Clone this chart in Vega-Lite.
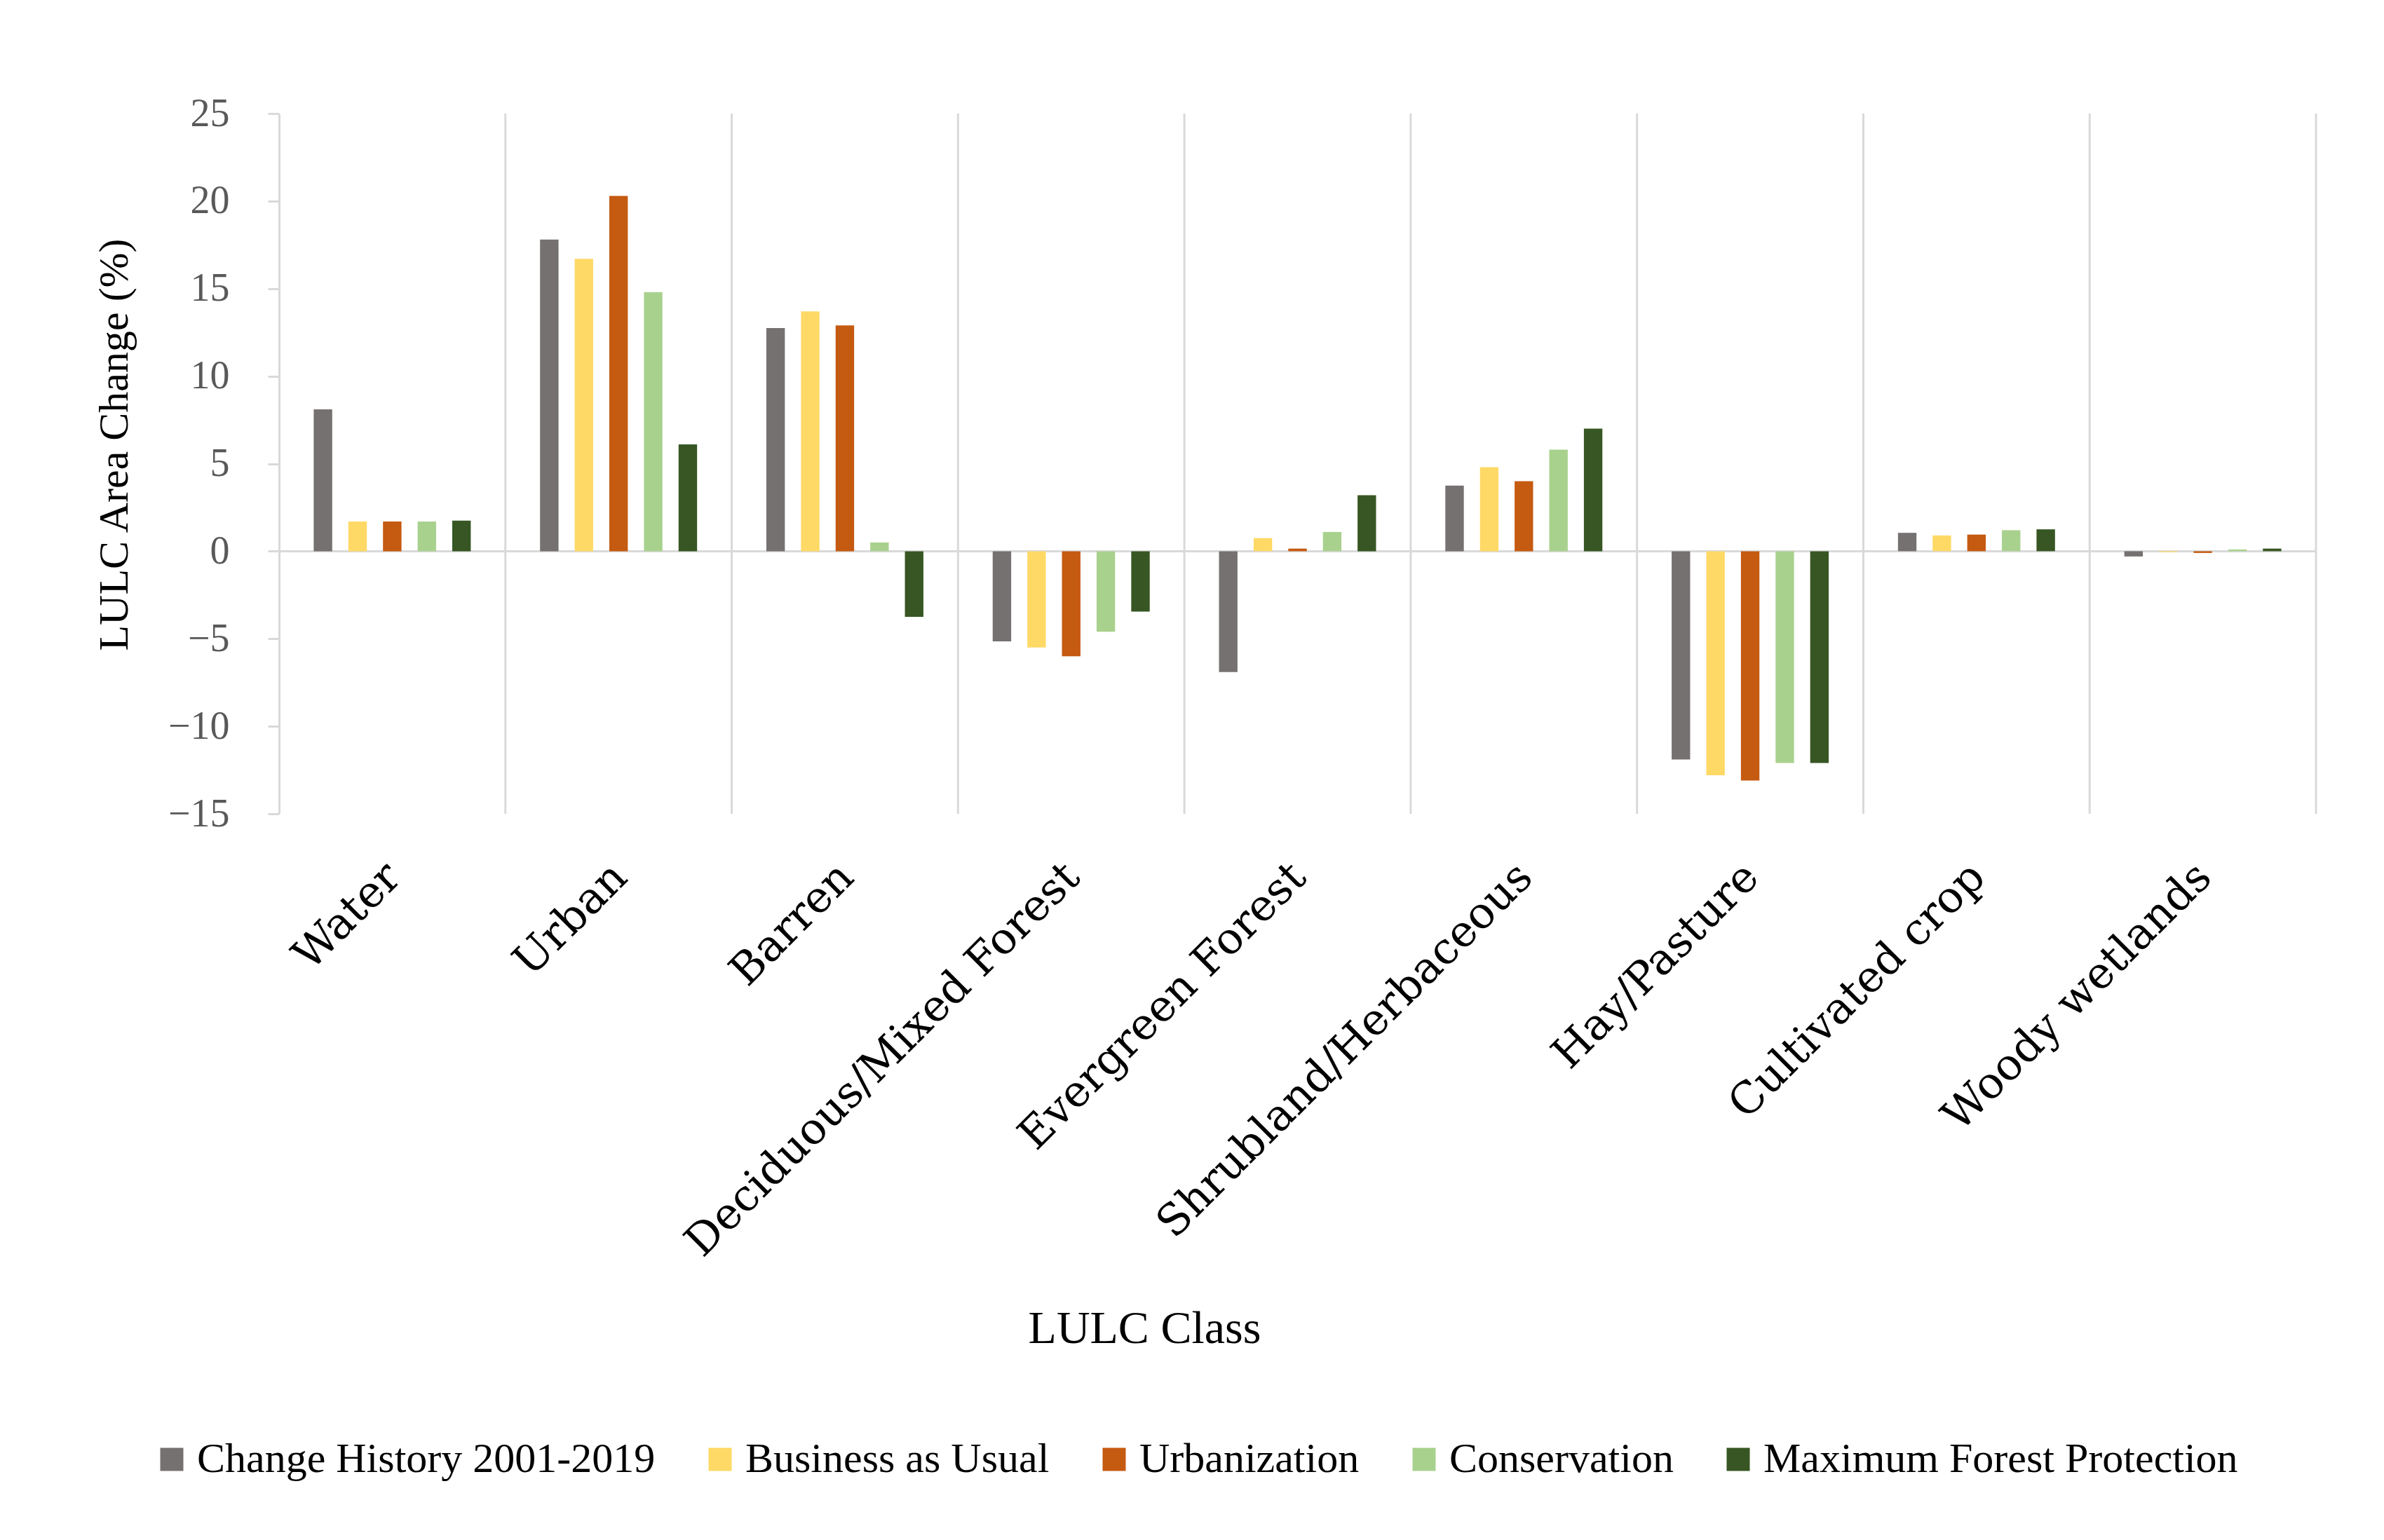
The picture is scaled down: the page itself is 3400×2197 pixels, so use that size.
{
  "$schema": "https://vega.github.io/schema/vega-lite/v6.json",
  "width": 2905,
  "height": 999,
  "autosize": {"type": "none"},
  "padding": {"left": 398, "top": 162, "right": 97, "bottom": 1036},
  "background": "white",
  "config": {"font": "Liberation Serif", "view": {"stroke": null}},
  "data": {
    "values": [
      {"cls": "Water", "scen": "Change History 2001-2019", "v": 8.1},
      {"cls": "Water", "scen": "Business as Usual", "v": 1.7},
      {"cls": "Water", "scen": "Urbanization", "v": 1.7},
      {"cls": "Water", "scen": "Conservation", "v": 1.7},
      {"cls": "Water", "scen": "Maximum Forest Protection", "v": 1.75},
      {"cls": "Urban", "scen": "Change History 2001-2019", "v": 17.8},
      {"cls": "Urban", "scen": "Business as Usual", "v": 16.7},
      {"cls": "Urban", "scen": "Urbanization", "v": 20.3},
      {"cls": "Urban", "scen": "Conservation", "v": 14.8},
      {"cls": "Urban", "scen": "Maximum Forest Protection", "v": 6.1},
      {"cls": "Barren", "scen": "Change History 2001-2019", "v": 12.75},
      {"cls": "Barren", "scen": "Business as Usual", "v": 13.7},
      {"cls": "Barren", "scen": "Urbanization", "v": 12.9},
      {"cls": "Barren", "scen": "Conservation", "v": 0.5},
      {"cls": "Barren", "scen": "Maximum Forest Protection", "v": -3.75},
      {"cls": "Deciduous/Mixed Forest", "scen": "Change History 2001-2019", "v": -5.15},
      {"cls": "Deciduous/Mixed Forest", "scen": "Business as Usual", "v": -5.5},
      {"cls": "Deciduous/Mixed Forest", "scen": "Urbanization", "v": -6.0},
      {"cls": "Deciduous/Mixed Forest", "scen": "Conservation", "v": -4.6},
      {"cls": "Deciduous/Mixed Forest", "scen": "Maximum Forest Protection", "v": -3.45},
      {"cls": "Evergreen Forest", "scen": "Change History 2001-2019", "v": -6.9},
      {"cls": "Evergreen Forest", "scen": "Business as Usual", "v": 0.75},
      {"cls": "Evergreen Forest", "scen": "Urbanization", "v": 0.15},
      {"cls": "Evergreen Forest", "scen": "Conservation", "v": 1.1},
      {"cls": "Evergreen Forest", "scen": "Maximum Forest Protection", "v": 3.2},
      {"cls": "Shrubland/Herbaceous", "scen": "Change History 2001-2019", "v": 3.75},
      {"cls": "Shrubland/Herbaceous", "scen": "Business as Usual", "v": 4.8},
      {"cls": "Shrubland/Herbaceous", "scen": "Urbanization", "v": 4.0},
      {"cls": "Shrubland/Herbaceous", "scen": "Conservation", "v": 5.8},
      {"cls": "Shrubland/Herbaceous", "scen": "Maximum Forest Protection", "v": 7.0},
      {"cls": "Hay/Pasture", "scen": "Change History 2001-2019", "v": -11.9},
      {"cls": "Hay/Pasture", "scen": "Business as Usual", "v": -12.8},
      {"cls": "Hay/Pasture", "scen": "Urbanization", "v": -13.1},
      {"cls": "Hay/Pasture", "scen": "Conservation", "v": -12.1},
      {"cls": "Hay/Pasture", "scen": "Maximum Forest Protection", "v": -12.1},
      {"cls": "Cultivated crop", "scen": "Change History 2001-2019", "v": 1.05},
      {"cls": "Cultivated crop", "scen": "Business as Usual", "v": 0.9},
      {"cls": "Cultivated crop", "scen": "Urbanization", "v": 0.95},
      {"cls": "Cultivated crop", "scen": "Conservation", "v": 1.2},
      {"cls": "Cultivated crop", "scen": "Maximum Forest Protection", "v": 1.25},
      {"cls": "Woody wetlands", "scen": "Change History 2001-2019", "v": -0.3},
      {"cls": "Woody wetlands", "scen": "Business as Usual", "v": -0.05},
      {"cls": "Woody wetlands", "scen": "Urbanization", "v": -0.1},
      {"cls": "Woody wetlands", "scen": "Conservation", "v": 0.1},
      {"cls": "Woody wetlands", "scen": "Maximum Forest Protection", "v": 0.15}
    ]
  },
  "layer": [
    {
      "transform": [{"filter": "datum.scen === 'Change History 2001-2019'"}],
      "mark": {"type": "rule", "color": "#D9D9D9", "strokeWidth": 3},
      "encoding": {
        "x": {"field": "cls", "type": "nominal", "sort": null, "bandPosition": 1},
        "y": {"datum": 25},
        "y2": {"datum": -15}
      }
    },
    {
      "mark": {"type": "rule", "color": "#D9D9D9", "strokeWidth": 3},
      "encoding": {"y": {"datum": 0}}
    },
    {
      "mark": {"type": "bar"},
      "encoding": {
        "x": {
          "field": "cls",
          "type": "nominal",
          "sort": null,
          "scale": {"paddingInner": 0, "paddingOuter": 0},
          "axis": {
            "title": "LULC Class",
            "titleFont": "Liberation Serif",
            "titleFontSize": 66,
            "titleFontWeight": "normal",
            "titleColor": "#000000",
            "titleX": 1234,
            "titleY": 754,
            "titleAlign": "center",
            "titleBaseline": "alphabetic",
            "domain": false,
            "ticks": false,
            "tickSize": 0,
            "grid": false,
            "labelAngle": 315,
            "labelAlign": "right",
            "labelBaseline": "middle",
            "labelFont": "DejaVu Serif",
            "labelFontSize": 62,
            "labelColor": "#000000",
            "labelPadding": 80,
            "labelOffset": 2,
            "labelLimit": 3000,
            "labelOverlap": false,
            "labelBound": false
          }
        },
        "xOffset": {
          "field": "scen",
          "type": "nominal",
          "sort": null,
          "scale": {"paddingInner": 0.466, "paddingOuter": 1.18}
        },
        "y": {
          "field": "v",
          "type": "quantitative",
          "scale": {"domain": [-15, 25], "nice": false},
          "axis": {
            "values": [-15, -10, -5, 0, 5, 10, 15, 20, 25],
            "grid": false,
            "domainColor": "#D9D9D9",
            "domainWidth": 3,
            "tickColor": "#D9D9D9",
            "tickWidth": 3,
            "tickSize": 16,
            "labelFont": "Liberation Serif",
            "labelFontSize": 56,
            "labelColor": "#595959",
            "labelPadding": 55,
            "title": "LULC Area Change (%)",
            "titleFont": "Liberation Serif",
            "titleFontSize": 60,
            "titleFontWeight": "normal",
            "titleColor": "#000000",
            "titleX": -235,
            "titleY": 472,
            "titleAngle": 270,
            "titleAlign": "center",
            "titleBaseline": "middle"
          }
        },
        "color": {
          "field": "scen",
          "type": "nominal",
          "sort": null,
          "scale": {
            "domain": ["Change History 2001-2019", "Business as Usual", "Urbanization", "Conservation", "Maximum Forest Protection"],
            "range": ["#767171", "#FFD966", "#C55A11", "#A9D18E", "#375623"]
          },
          "legend": {
            "title": null,
            "orient": "none",
            "legendX": -183,
            "legendY": 1890,
            "direction": "horizontal",
            "columns": 5,
            "symbolType": "square",
            "symbolSize": 1089,
            "symbolStrokeWidth": 0,
            "symbolOpacity": 1,
            "labelFont": "Liberation Serif",
            "labelFontSize": 60,
            "labelColor": "#000000",
            "labelOffset": 6,
            "labelLimit": 2000,
            "columnPadding": 62
          }
        }
      }
    }
  ]
}
